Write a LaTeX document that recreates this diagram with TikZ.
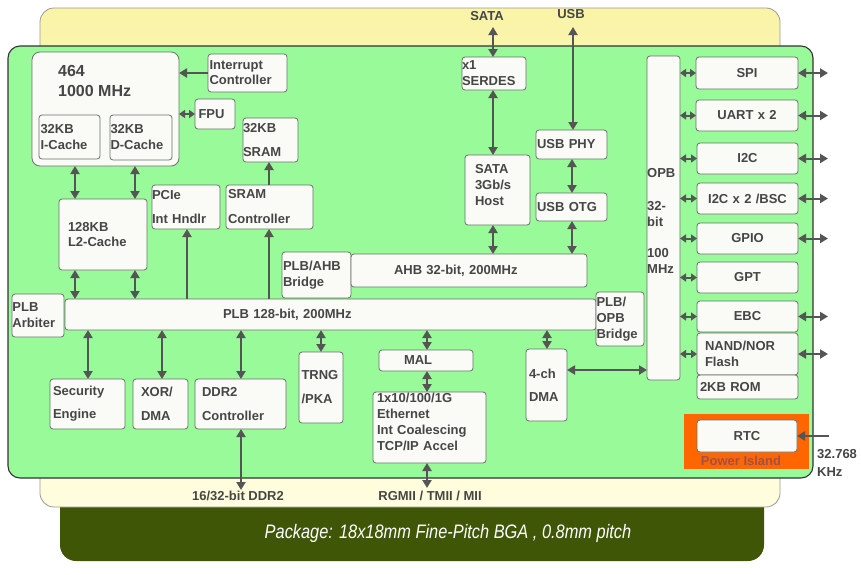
\documentclass[tikz,border=0pt]{standalone}
\usepackage{fontspec}
\setmainfont{Liberation Sans}
\usepackage{graphicx}
\usetikzlibrary{arrows.meta}
\definecolor{grn}{RGB}{152,250,152}
\definecolor{yeltop}{RGB}{250,244,168}
\definecolor{yelbot}{RGB}{255,253,222}
\definecolor{olv}{RGB}{62,86,6}
\definecolor{boxfill}{RGB}{250,250,246}
\definecolor{boxline}{RGB}{105,115,105}
\definecolor{txt}{RGB}{70,70,70}
\definecolor{arr}{RGB}{85,85,85}
\definecolor{orng}{RGB}{255,102,0}
\definecolor{pitxt}{RGB}{160,80,75}
\tikzset{
 box/.style={draw=boxline, fill=boxfill, line width=0.8pt, rounded corners=3pt, text=txt,
   font=\bfseries\fontsize{13}{16}\selectfont, inner ysep=0pt, outer sep=0pt},
 wide/.style={font=\bfseries\fontsize{13}{#1}\selectfont},
 lbl/.style={text=txt, font=\bfseries\fontsize{13}{16}\selectfont, inner sep=0pt},
 dar/.style={draw=arr, line width=2pt, {Triangle[length=8pt,width=9pt]}-{Triangle[length=8pt,width=9pt]}},
 sar/.style={draw=arr, line width=2pt, -{Triangle[length=8pt,width=9pt]}},
 tinyar/.style={draw=arr, line width=2pt, {Triangle[length=6pt,width=8pt]}-{Triangle[length=6pt,width=8pt]}},
}
\newcommand\bx[8]{%
 \pgfmathsetmacro\bxw{#4-#2}%
 \pgfmathsetmacro\bxh{#5-#3}%
 \pgfmathsetmacro\bxt{#4-#2-2*#6}%
 \node[box, minimum width=\bxw pt, minimum height=\bxh pt, text width=\bxt pt,
   inner xsep=#6pt, align=left, #7] (#1) at ({(#2+#4)/2},{(#3+#5)/2}) {#8};}
\begin{document}
\begin{tikzpicture}[x=1pt,y=-1pt]
\useasboundingbox (0,0) rectangle (861,574);
% package layers
\fill[olv, rounded corners=16pt] (60,470) rectangle (764,561);
\path[draw=gray!80, line width=0.8pt, top color=yeltop, bottom color=yelbot, rounded corners=14pt] (40,8) rectangle (780,507);
\path[draw=black!80, line width=1.1pt, fill=grn, rounded corners=12pt] (8,46) rectangle (813,478);
\node[text=white, font=\itshape\fontsize{19.5}{22}\selectfont, inner sep=0pt] (pkg) at (448,533)
  {\scalebox{0.84}[1]{Package: 18x18mm Fine-Pitch BGA , 0.8mm pitch}};

% CPU complex
\bx{cpu}{32}{52}{179}{166}{2}{rounded corners=8pt}{}
\node[lbl, font=\bfseries\fontsize{16}{20}\selectfont, anchor=west, align=left] (cput) at (58,81) {464\\1000 MHz};
\bx{icache}{39}{115}{100}{159}{1.5}{}{32KB\\I-Cache}
\bx{dcache}{110}{115}{172}{160}{0.5}{}{32KB\\D-Cache}
\bx{intc}{208}{54}{287}{92}{1.5}{wide=15}{Interrupt\\Controller}
\bx{fpu}{195}{99}{235}{129}{3.5}{}{FPU}
\bx{sram}{243}{118}{298}{162}{0}{wide=24}{32KB\\SRAM}
\bx{pcie}{152}{185}{220}{229}{0}{wide=24}{PCIe\\Int Hndlr}
\bx{sramc}{226}{185}{313}{229}{2}{wide=25}{SRAM\\Controller}
\bx{l2}{59}{199}{147}{270}{9}{wide=15}{128KB\\L2-Cache}
\bx{plbahb}{282}{252}{351}{298}{1}{}{PLB/AHB\\Bridge}
\bx{ahb}{351}{254}{587}{287}{2}{}{\hspace*{41pt}AHB 32-bit, 200MHz}
\bx{arb}{12}{294}{64}{337}{0.5}{}{PLB\\Arbiter}
\bx{plb}{65}{299}{596}{330}{2}{}{\hspace*{156pt}PLB 128-bit, 200MHz}
\bx{plbopb}{596}{292}{644}{346}{0.5}{}{PLB/\\OPB\\Bridge}
\bx{opb}{647}{56}{680}{380}{0}{}{}
\node[lbl, anchor=west, align=left] (opbt) at (647,221) {OPB\\[17pt]32-\\bit\\[15pt]100\\MHz};

% SATA / USB
\bx{serdes}{462}{57}{526}{90}{0}{}{x1\\SERDES}
\bx{sata}{465}{155}{530}{225}{10}{}{SATA\\3Gb/s\\Host\\[-5pt]\mbox{}}
\bx{usbphy}{536}{130}{607}{159}{1}{}{USB PHY}
\bx{usbotg}{536}{193}{607}{221}{1}{}{USB OTG}

% peripherals
\bx{spi}{696}{57}{798}{89}{2}{align=center}{SPI}
\bx{uart}{696}{100}{798}{131}{2}{align=center}{UART x 2}
\bx{i2c}{697}{143}{798}{174}{2}{align=center}{I2C}
\bx{bsc}{697}{183}{798}{214}{2}{align=center}{I2C x 2 /BSC}
\bx{gpio}{697}{223}{798}{254}{2}{align=center}{GPIO}
\bx{gpt}{697}{262}{798}{293}{2}{align=center}{GPT}
\bx{ebc}{697}{301}{798}{332}{2}{align=center}{EBC}
\bx{nand}{697}{333}{798}{375}{8}{}{NAND/NOR\\Flash}
\bx{rom}{697}{375}{798}{399}{3}{}{2KB ROM}
\node[fill=orng, minimum width=125pt, minimum height=55pt, inner sep=0pt, outer sep=0pt] (pwr) at (746.5,441.5) {};
\node[lbl, text=pitxt] (pwrt) at (741,461) {Power Island};
\bx{rtc}{697}{420}{797}{452}{2}{align=center}{RTC}

% lower blocks
\bx{sec}{50}{379}{125}{429}{3}{wide=23}{Security\\Engine}
\bx{xor}{133}{379}{188}{429}{8}{wide=24}{XOR/\\DMA}
\bx{ddr}{195}{379}{286}{429}{7}{wide=24}{DDR2\\Controller}
\bx{trng}{299}{352}{343}{423}{2.5}{wide=24}{TRNG\\/PKA}
\bx{mal}{379}{350}{473}{371}{2}{}{\hspace*{23pt}MAL}
\bx{eth}{373}{392}{486}{463}{4}{}{1x10/100/1G\\Ethernet\\Int Coalescing\\TCP/IP Accel\\[-4pt]\mbox{}}
\bx{dma4}{526}{349}{567}{421}{3}{wide=23}{4-ch\\DMA}

% external labels
\node[lbl] (satal) at (487,16) {SATA};
\node[lbl] (usbl) at (571,14) {USB};
\node[lbl] (ddrl) at (238,496) {16/32-bit DDR2};
\node[lbl] (rgl) at (430,496) {RGMII / TMII / MII};
\node[lbl, anchor=west, align=left] (khz) at (817,463) {32.768\\[2pt]KHz};
\coordinate (sataext) at (493,27);
\coordinate (usbext) at (573,27);
\coordinate (ddrext) at (241,490);
\coordinate (ethext) at (427,488);
\coordinate (clk) at (829,436);

% connectors
\draw[dar] (cpu.south -| 75,0) -- (l2.north -| 75,0);
\draw[dar] (cpu.south -| 135,0) -- (l2.north -| 135,0);
\draw[dar] (l2.south -| 75,0) -- (plb.north -| 75,0);
\draw[dar] (l2.south -| 135,0) -- (plb.north -| 135,0);
\draw[sar] (intc.west) -- (cpu.east |- intc.west);
\draw[tinyar] (fpu.west) -- (cpu.east |- fpu.west);
\draw[sar] (sramc.north -| 269,0) -- (sram.south -| 269,0);
\draw[sar] (plb.north -| 187,0) -- (pcie.south -| 187,0);
\draw[sar] (plb.north -| 269,0) -- (sramc.south -| 269,0);
\draw[dar] (sataext) -- (serdes.north -| sataext);
\draw[dar] (serdes.south -| 493,0) -- (sata.north -| 493,0);
\draw[dar] (sata.south -| 493,0) -- (ahb.north -| 493,0);
\draw[dar] (usbext) -- (usbphy.north -| usbext);
\draw[dar] (usbphy.south -| 572,0) -- (usbotg.north -| 572,0);
\draw[dar] (usbotg.south -| 572,0) -- (ahb.north -| 572,0);
\foreach \n in {spi,uart,i2c,bsc,gpio,gpt,ebc,nand}
  \draw[tinyar] (opb.east |- \n.west) -- (\n.west);
\foreach \n in {spi,uart,i2c,bsc,gpio,ebc,nand}
  \draw[dar] (\n.east) -- ([xshift=30pt]\n.east);
\draw[sar] (clk) -- (rtc.east |- clk);
\draw[dar] (plb.south -| 88,0) -- (sec.north -| 88,0);
\draw[dar] (plb.south -| 162,0) -- (xor.north -| 162,0);
\draw[dar] (plb.south -| 241,0) -- (ddr.north -| 241,0);
\draw[dar] (plb.south -| 321,0) -- (trng.north -| 321,0);
\draw[dar] (plb.south -| 427,0) -- (mal.north -| 427,0);
\draw[dar] (plb.south -| 547,0) -- (dma4.north -| 547,0);
\draw[dar] (mal.south -| 427,0) -- (eth.north -| 427,0);
\draw[dar] (ddr.south -| 241,0) -- (ddrext);
\draw[dar] (eth.south -| 427,0) -- (ethext);
\draw[dar] (dma4.east |- 0,370) -- (opb.west |- 0,370);
\end{tikzpicture}
\end{document}
